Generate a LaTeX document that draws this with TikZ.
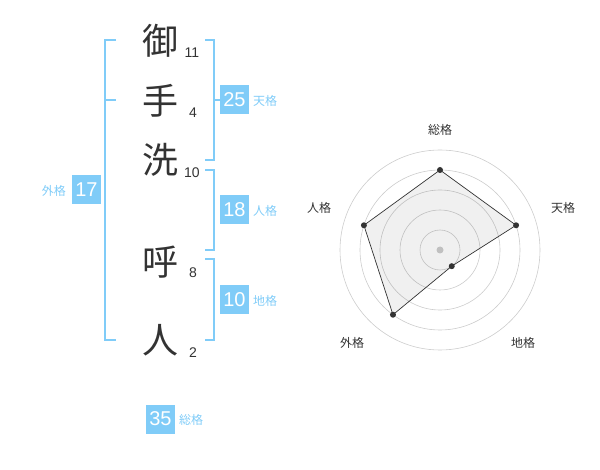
\documentclass[tikz,border=0pt]{standalone}
\usepackage{fontspec}
\setmainfont{Liberation Sans}
\newfontfamily\jpfont{Noto Sans CJK JP}
\newfontfamily\jplight{Noto Sans CJK JP Light}
\definecolor{kblue}{HTML}{80CCF8}
\definecolor{ktext}{HTML}{333333}
\definecolor{kgrid}{HTML}{CCCCCC}
\tikzset{
  brk/.style={draw=kblue, line width=1.6pt},
  kanji/.style={font=\jpfont\fontsize{36}{36}\selectfont, text=ktext, inner sep=0pt},
  strk/.style={font=\fontsize{14}{14}\selectfont, text=ktext, inner sep=0pt},
  valbox/.style={fill=kblue, text=white, minimum width=29pt, minimum height=29pt, inner sep=0pt, font=\fontsize{20}{20}\selectfont},
  lbl/.style={font=\jpfont\fontsize{12}{12}\selectfont, text=kblue, inner sep=0pt},
  rlbl/.style={font=\jpfont\fontsize{12}{12}\selectfont, text=ktext, inner sep=0pt},
  ring/.style={draw=kgrid, line width=0.6pt},
  pt/.style={circle, fill=ktext, inner sep=0pt, minimum size=6pt},
}
\begin{document}
\begin{tikzpicture}[x=1pt,y=-1pt]
\useasboundingbox (0,0) rectangle (600,470);
% kanji
\node[kanji] (k1) at (160,41) {御};
\node[kanji] (k2) at (160,101) {手};
\node[kanji] (k3) at (160,160) {洗};
\node[kanji] (k4) at (160,262) {呼};
\node[kanji] (k5) at (160,340) {人};
% strokes
\node[strk] (s1) at (192,53) {11};
\node[strk] (s2) at (193,113) {4};
\node[strk] (s3) at (192,173) {10};
\node[strk] (s4) at (193,273) {8};
\node[strk] (s5) at (193,353) {2};
% left bracket
\coordinate (lt) at (116,40);
\coordinate (lb) at (116,340);
\draw[brk] (lt) -- (105,40) -- (105,340) -- (lb);
\draw[brk] (105,100) -- (116,100);
% right brackets
\draw[brk] (205,40) -- (214,40) -- (214,160) -- (205,160);
\draw[brk] (214,100) -- (220,100);
\draw[brk] (205,170) -- (214,170) -- (214,250) -- (205,250);
\draw[brk] (205,259) -- (214,259) -- (214,340) -- (205,340);
% value boxes
\node[valbox] (b25) at (234.5,100) {25};
\node[lbl, anchor=west] (l25) at (253,101) {天格};
\node[valbox] (b18) at (234.5,210) {18};
\node[lbl, anchor=west] (l18) at (253,211) {人格};
\node[valbox] (b10) at (234.5,300) {10};
\node[lbl, anchor=west] (l10) at (253,301) {地格};
\node[valbox] (b17) at (86.5,190) {17};
\node[lbl, anchor=east] (l17) at (66,191) {外格};
\node[valbox] (b35) at (160.5,419) {35};
\node[lbl, anchor=west] (l35) at (179,420) {総格};
% radar
\coordinate (c) at (440,250);
\foreach \r in {20,40,60,80,100} \draw[ring] (c) circle (\r);
\fill[kgrid] (c) circle (3.5);
\begin{scope}[shift={(440,250)}, y=1pt]
\coordinate (p1) at (90:80);
\coordinate (p2) at (18:80);
\coordinate (p3) at (-54:20);
\coordinate (p4) at (-126:80);
\coordinate (p5) at (162:80);
\end{scope}
\fill[black, fill opacity=0.06] (p1) -- (p2) -- (p3) -- (p4) -- (p5) -- cycle;
\draw[ktext, line width=0.7pt] (p1) -- (p2) -- (p3) -- (p4) -- (p5) -- cycle;
\foreach \p in {p1,p2,p3,p4,p5} \node[pt] at (\p) {};
\node[rlbl] (r1) at (440,130) {総格};
\node[rlbl] (r2) at (563,208) {天格};
\node[rlbl] (r3) at (523,343) {地格};
\node[rlbl] (r4) at (352,343) {外格};
\node[rlbl] (r5) at (319,208) {人格};
\end{tikzpicture}
\end{document}
